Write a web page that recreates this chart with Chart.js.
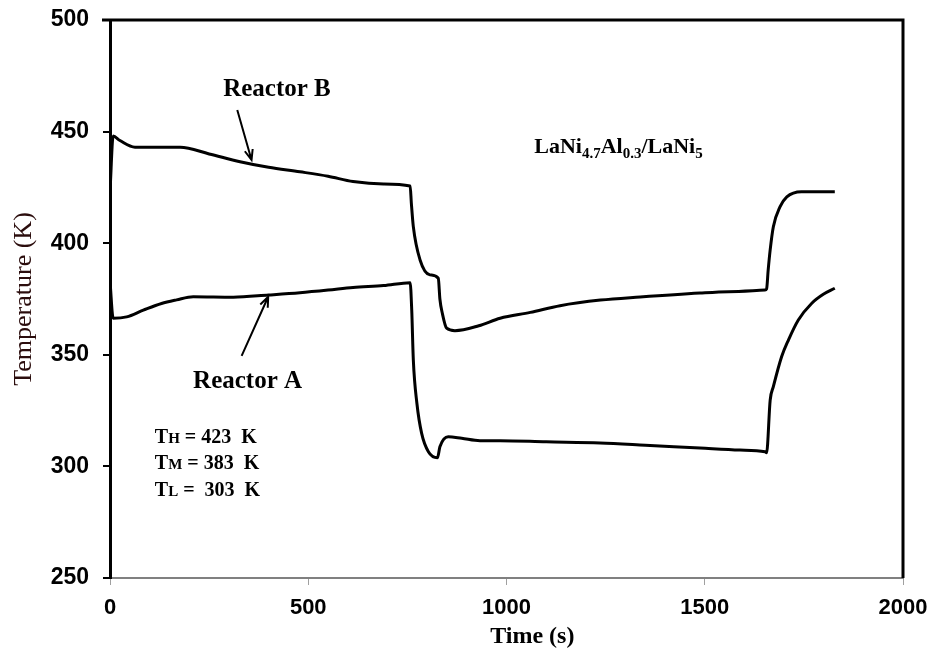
<!DOCTYPE html>
<html>
<head>
<meta charset="utf-8">
<script src="https://cdn.jsdelivr.net/npm/chart.js@4/dist/chart.umd.min.js"></script>
<style>
  html, body { margin: 0; padding: 0; background: #fff; }
  #wrap { width: 927px; height: 650px; }
</style>
</head>
<body>
<div id="wrap"><canvas id="chart" width="927" height="650"></canvas></div>
<script>
// Reactor B (upper curve): time in s, temperature in K
var timeB = [0, 8, 25, 63, 120, 177, 250, 328, 400, 479, 550, 613, 690, 757,
  760, 765, 782, 807, 828, 832, 838, 849, 870, 930, 984, 1060, 1135, 1237, 1337,
  1488, 1560, 1652, 1656, 1660, 1665, 1673, 1690, 1707, 1744, 1828];
var tempB = [423, 448, 446, 443, 443, 443, 440, 436.5, 434, 432, 430, 427.6, 426.5, 425.6,
  418, 407.4, 392.5, 385.8, 384.3, 375, 368.7, 361.9, 360.8, 363, 366.4, 369, 372, 374.5, 375.9,
  377.7, 378.3, 379, 379.5, 388, 397, 407.4, 416.4, 420.8, 423.1, 423.1];

// Reactor A (lower curve)
var timeA = [0, 8, 42, 84, 130, 168, 210, 311, 400, 479, 550, 613, 690, 757,
  761, 765, 774, 786, 803, 826, 832, 853, 887, 933, 984, 1100, 1236, 1350, 1488,
  1589, 1652, 1656, 1665, 1673, 1694, 1711, 1736, 1770, 1799, 1828];
var tempA = [383, 366.4, 367, 370, 373, 374.6, 376, 375.8, 376.8, 377.8, 379, 380.2, 381, 382.3,
  370, 347.7, 328.3, 314.8, 306.6, 303.9, 308.8, 313.3, 312.6, 311.5, 311.5, 311, 310.5, 309.5, 308.2,
  307.3, 306.6, 306.1, 329.7, 335.7, 349.2, 356.6, 365.6, 373.1, 377.1, 379.8];

var xTicks = [0, 500, 1000, 1500, 2000];
var yTicks = [250, 300, 350, 400, 450, 500];

// operating temperatures shown in the corner note
var tempLevels = [
  { sub: 'H', value: '= 423  K' },
  { sub: 'M', value: '= 383  K' },
  { sub: 'L', value: '=  303  K' }
];

function toPoints(xs, ys) {
  return xs.map(function (x, i) { return { x: x, y: ys[i] }; });
}

var serif = '"Liberation Serif", "Times New Roman", serif';
var sans = '"Liberation Sans", Arial, sans-serif';

// draws a run of [text, size, yShift] pieces, left to right
function drawRuns(ctx, x, y, runs) {
  runs.forEach(function (r) {
    ctx.font = 'bold ' + r[1] + 'px ' + serif;
    ctx.fillText(r[0], x, y + (r[2] || 0));
    x += ctx.measureText(r[0]).width;
  });
}

function arrow(ctx, x0, y0, x1, y1) {
  var a = Math.atan2(y1 - y0, x1 - x0);
  var h = 11, w = 0.38;
  ctx.beginPath();
  ctx.moveTo(x0, y0);
  ctx.lineTo(x1, y1);
  ctx.moveTo(x1 - h * Math.cos(a - w), y1 - h * Math.sin(a - w));
  ctx.lineTo(x1, y1);
  ctx.lineTo(x1 - h * Math.cos(a + w), y1 - h * Math.sin(a + w));
  ctx.stroke();
}

var notes = {
  id: 'notes',
  afterDatasetsDraw: function (chart) {
    var ctx = chart.ctx, xs = chart.scales.x, ys = chart.scales.y, area = chart.chartArea;
    var px = function (v) { return xs.getPixelForValue(v); };
    var py = function (v) { return ys.getPixelForValue(v); };
    ctx.save();

    // frame: top and right edges
    ctx.strokeStyle = '#000';
    ctx.lineWidth = 3;
    ctx.beginPath();
    ctx.moveTo(area.left - 8, area.top);
    ctx.lineTo(area.right, area.top);
    ctx.lineTo(area.right, area.bottom);
    ctx.stroke();

    ctx.fillStyle = '#000';
    ctx.textBaseline = 'alphabetic';
    ctx.textAlign = 'center';
    ctx.font = 'bold 25px ' + serif;
    ctx.fillText('Reactor B', px(421), py(466));
    ctx.fillText('Reactor A', px(347), py(335));

    // x axis title sits a little right of centre
    ctx.font = 'bold 24px ' + serif;
    ctx.fillText('Time (s)', px(1065), area.bottom + 65);

    ctx.lineWidth = 2;
    arrow(ctx, px(321), py(459.7), px(357), py(437.3));
    arrow(ctx, px(332), py(349.5), px(399), py(376));

    ctx.textAlign = 'left';
    drawRuns(ctx, px(1070), py(440.5), [
      ['LaNi', 22], ['4.7', 15, 5], ['Al', 22], ['0.3', 15, 5], ['/LaNi', 22], ['5', 15, 5]
    ]);

    tempLevels.forEach(function (t, i) {
      drawRuns(ctx, px(113), py(310.5 - i * 11.8), [['T', 20], [t.sub, 15], [' ' + t.value, 20]]);
    });
    ctx.restore();
  }
};

new Chart(document.getElementById('chart'), {
  type: 'line',
  data: {
    datasets: [
      { label: 'Reactor B', data: toPoints(timeB, tempB) },
      { label: 'Reactor A', data: toPoints(timeA, tempA) }
    ]
  },
  options: {
    responsive: false,
    animation: false,
    events: [],
    layout: { padding: { top: 20, right: 24, left: 0, bottom: 0 } },
    elements: {
      line: { borderColor: '#000', borderWidth: 3, cubicInterpolationMode: 'monotone', fill: false },
      point: { radius: 0 }
    },
    plugins: { legend: { display: false }, tooltip: { enabled: false } },
    scales: {
      x: {
        type: 'linear', min: 0, max: 2000,
        afterBuildTicks: function (s) { s.ticks = xTicks.map(function (v) { return { value: v }; }); },
        afterFit: function (s) { s.height = 72; s.paddingLeft = 0; s.paddingRight = 0; },
        border: { color: '#808080', width: 2 },
        grid: { drawOnChartArea: false, drawTicks: true, tickLength: 7, color: '#a0a0a0', lineWidth: 1 },
        ticks: { color: '#000', padding: 10, font: { family: sans, size: 22, weight: 'bold' }, maxRotation: 0,
          callback: function (v) { return String(v); } },
        title: { display: false }
      },
      y: {
        min: 250, max: 500,
        afterBuildTicks: function (s) { s.ticks = yTicks.map(function (v) { return { value: v }; }); },
        afterFit: function (s) { s.width = 110; s.paddingTop = 0; s.paddingBottom = 0; },
        border: { color: '#000', width: 3 },
        grid: { drawOnChartArea: false, drawTicks: true, tickLength: 7, color: '#000', lineWidth: 2 },
        ticks: { color: '#000', padding: 14, font: { family: sans, size: 23, weight: 'bold' },
          callback: function (v) { return String(v); } },
        title: { display: true, text: 'Temperature (K)', color: '#2b0d0d', padding: { top: 9, bottom: 0 },
          font: { family: serif, size: 26, weight: 'normal' } }
      }
    }
  },
  plugins: [notes]
});
</script>
</body>
</html>
